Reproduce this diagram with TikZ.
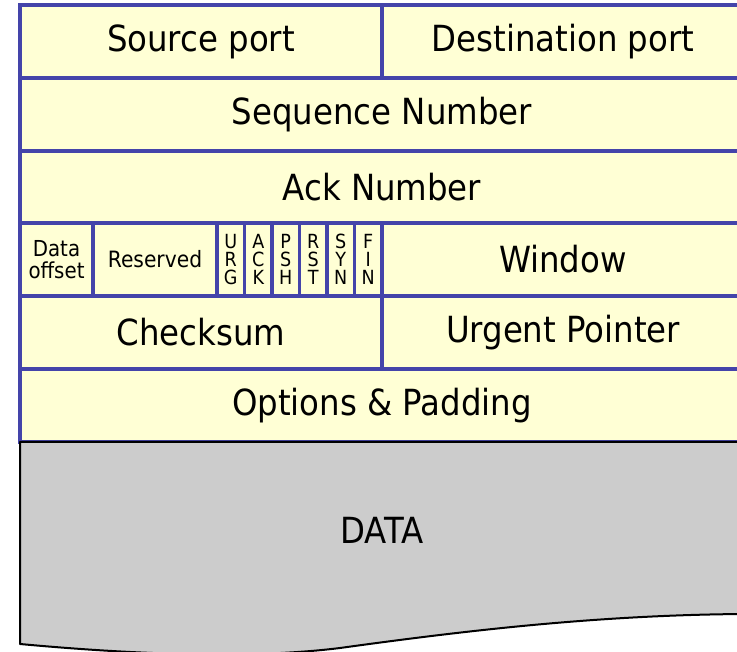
\documentclass[tikz,border=0pt]{standalone}
\usepackage{fontspec}
\setmainfont{DejaVu Sans Condensed}
\definecolor{rule}{RGB}{68,68,170}
\definecolor{cellfill}{RGB}{255,255,213}
\definecolor{datafill}{RGB}{204,204,204}
\begin{document}
\begin{tikzpicture}[x=1pt,y=-1pt,
  cell/.style={draw=rule, fill=cellfill, line width=3.2pt, inner sep=0pt,
    outer sep=0pt, text=black, font=\fontsize{36}{43}\selectfont},
  smallcell/.style={cell, font=\fontsize{22}{25}\selectfont, align=center},
  flagcell/.style={cell, font=\fontsize{19.5}{18}\selectfont, align=center,
    minimum width=27.5pt, minimum height=73pt},
  datashape/.style={draw=black, fill=datafill, line width=2pt, line join=round}]
\useasboundingbox (0,0) rectangle (737,652);
\clip (0,0) rectangle (737,652);

% header rows
\node[cell, minimum width=362pt, minimum height=73pt] (src) at (201,41.5) {Source port};
\node[cell, minimum width=362pt, minimum height=73pt] (dst) at (563,41.5) {Destination port};
\node[cell, minimum width=724pt, minimum height=73pt] (seq) at (382,114.5) {Sequence Number};
\node[cell, minimum width=724pt, minimum height=72pt] (ack) at (382,187) {Ack Number};

% offset, reserved bits, flags and window
\node[smallcell, minimum width=73pt, minimum height=73pt] (off) at (56.5,259.5) {Data\\[-3pt]offset};
\node[smallcell, minimum width=124pt, minimum height=73pt, font=\fontsize{22.5}{25}\selectfont] (res) at (155,259.5) {Reserved};
\node[flagcell] (urg) at (230.75,259.5) {U\\R\\G};
\node[flagcell] (ackf) at (258.25,259.5) {A\\C\\K};
\node[flagcell] (psh) at (285.75,259.5) {P\\S\\H};
\node[flagcell] (rst) at (313.25,259.5) {R\\S\\T};
\node[flagcell] (syn) at (340.75,259.5) {S\\Y\\N};
\node[flagcell] (fin) at (368.25,259.5) {F\\I\\N};
\node[cell, minimum width=362pt, minimum height=73pt] (win) at (563,259.5) {Window};

% checksum, urgent pointer, options
\node[cell, minimum width=362pt, minimum height=73pt] (chk) at (201,332.5) {Checksum};
\node[cell, minimum width=362pt, minimum height=73pt] (urgp) at (563,332.5) {Urgent Pointer};
\node[cell, minimum width=724pt, minimum height=73pt] (opt) at (382,405.5) {Options \& Padding};

% payload with a torn lower edge
\path[datashape] (20,442) -- (744,442) -- (744,614)
  .. controls (600,615) and (470,630) .. (340,648)
  .. controls (260,658) and (150,656) .. (20,644) -- cycle;
\node[font=\fontsize{36}{43}\selectfont] (data) at (382,530) {DATA};
\end{tikzpicture}
\end{document}
